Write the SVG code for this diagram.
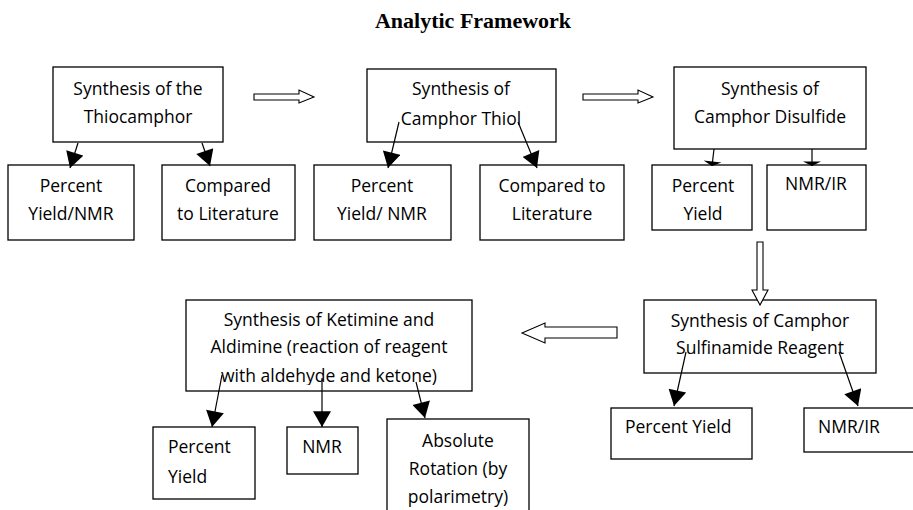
<svg xmlns="http://www.w3.org/2000/svg" width="913" height="510" viewBox="0 0 913 510">
<style>
.b{fill:#fff;stroke:#000;stroke-width:1.3}
.t{font-family:"Open Sans","Noto Sans",sans-serif;font-size:17.5px;fill:#000;text-anchor:middle}
.l{text-anchor:start}
.c{stroke:#000;stroke-width:1.2;fill:none}
.h{fill:#fff;stroke:#000;stroke-width:1.1}
.title{font-family:"Liberation Serif",serif;font-weight:bold;font-size:22px;text-anchor:middle}
</style>
<defs>
<marker id="ah" markerUnits="userSpaceOnUse" markerWidth="18" markerHeight="18" viewBox="0 0 14 16" refX="14" refY="8" orient="auto">
<path d="M0,0 L14,8 L0,16 Z" fill="#000"/>
</marker>
<marker id="af" markerUnits="userSpaceOnUse" markerWidth="18" markerHeight="18" viewBox="0 0 4 16" refX="4" refY="8" orient="auto">
<path d="M0,0 L4,8 L0,16 Z" fill="#000"/>
</marker>
<clipPath id="kclip"><rect x="186" y="300" width="286" height="85"/></clipPath>
</defs>
<text class="title" x="473" y="28">Analytic Framework</text>

<g id="n1"><rect class="b" x="53" y="67" width="170" height="75"/><text class="t" x="138" y="95">Synthesis of the</text><text class="t" x="138" y="123">Thiocamphor</text></g>
<g id="n1a"><rect class="b" x="8" y="165" width="126" height="75"/><text class="t" x="71" y="192">Percent</text><text class="t" x="71" y="220">Yield/NMR</text></g>
<g id="n1b"><rect class="b" x="162" y="165" width="133" height="75"/><text class="t" x="228" y="192">Compared</text><text class="t" x="228" y="220">to Literature</text></g>

<g id="n2"><rect class="b" x="367" y="69" width="189" height="73"/><text class="t" x="461" y="95">Synthesis of</text><text class="t" x="461" y="125">Camphor Thiol</text></g>
<g id="n2a"><rect class="b" x="314" y="165" width="137" height="75"/><text class="t" x="382" y="192">Percent</text><text class="t" x="382" y="220">Yield/ NMR</text></g>
<g id="n2b"><rect class="b" x="480" y="165" width="144" height="75"/><text class="t" x="552" y="192">Compared to</text><text class="t" x="552" y="220">Literature</text></g>

<g id="n3"><rect class="b" x="674" y="67" width="192" height="82"/><text class="t" x="770" y="95">Synthesis of</text><text class="t" x="770" y="123">Camphor Disulfide</text></g>
<g id="n3a"><rect class="b" x="652" y="165" width="100" height="65"/><text class="t" x="703" y="192">Percent</text><text class="t" x="703" y="220">Yield</text></g>
<g id="n3b"><rect class="b" x="767" y="165" width="99" height="65"/><text class="t" x="816" y="190">NMR/IR</text></g>

<g id="n4"><rect class="b" x="644" y="300" width="232" height="73"/><text class="t" x="760" y="327">Synthesis of Camphor</text><text class="t" x="760" y="354">Sulfinamide Reagent</text></g>
<g id="n4a"><rect class="b" x="611" y="408" width="141" height="51"/><text class="t l" x="625" y="433">Percent Yield</text></g>
<g id="n4b"><rect class="b" x="804" y="408" width="120" height="44"/><text class="t l" x="818" y="433">NMR/IR</text></g>

<g id="n5"><rect class="b" x="186" y="300" width="286" height="91"/><text class="t" x="329" y="326">Synthesis of Ketimine and</text><text class="t" x="329" y="353">Aldimine (reaction of reagent</text><text class="t" x="329" y="382" clip-path="url(#kclip)">with aldehyde and ketone)</text></g>
<g id="n5a"><rect class="b" x="153" y="427" width="102" height="72"/><text class="t l" x="168" y="453">Percent</text><text class="t l" x="168" y="483">Yield</text></g>
<g id="n5b"><rect class="b" x="287" y="427" width="71" height="47"/><text class="t" x="322" y="453">NMR</text></g>
<g id="n5c"><rect class="b" x="387" y="419" width="142" height="100"/><text class="t" x="458" y="447">Absolute</text><text class="t" x="458" y="475">Rotation (by</text><text class="t" x="458" y="503">polarimetry)</text></g>

<g id="connectors">
<line class="c" x1="78" y1="143" x2="70" y2="168" marker-end="url(#ah)"/>
<line class="c" x1="202" y1="143" x2="210" y2="166" marker-end="url(#ah)"/>
<line class="c" x1="399" y1="122" x2="388" y2="168" marker-end="url(#ah)"/>
<line class="c" x1="518" y1="122" x2="537" y2="168" marker-end="url(#ah)"/>
<line class="c" x1="714" y1="149" x2="712" y2="166" marker-end="url(#af)"/>
<line class="c" x1="812" y1="149" x2="812" y2="166" marker-end="url(#af)"/>
<line class="c" x1="686" y1="352" x2="674" y2="406" marker-end="url(#ah)"/>
<line class="c" x1="839" y1="352" x2="858" y2="406" marker-end="url(#ah)"/>
<line class="c" x1="222" y1="375" x2="212" y2="427" marker-end="url(#ah)"/>
<line class="c" x1="322" y1="378" x2="322" y2="427" marker-end="url(#ah)"/>
<line class="c" x1="416" y1="382" x2="425" y2="418" marker-end="url(#ah)"/>
<path class="h" d="M254,94 L299,94 L299,90 L314,97 L299,103 L299,100 L254,100 Z"/>
<path class="h" d="M583,94 L638,94 L638,90 L653,97 L638,103 L638,100 L583,100 Z"/>
<path class="h" d="M757,242 L763,242 L763,290 L768,290 L760,305 L752,290 L757,290 Z"/>
<path class="h" d="M617,327 L545,327 L545,323 L522,333 L545,343 L545,338 L617,338 Z"/>
</g>
</svg>
